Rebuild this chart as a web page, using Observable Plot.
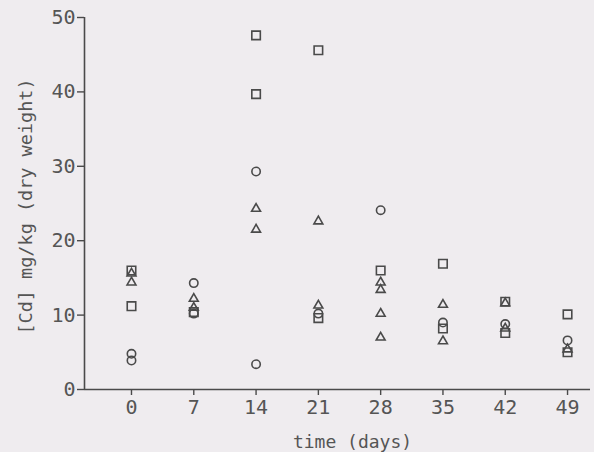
<!DOCTYPE html>
<html>
<head>
<meta charset="utf-8">
<script src="https://cdn.jsdelivr.net/npm/d3@7"></script>
<script src="https://cdn.jsdelivr.net/npm/@observablehq/plot@0.6"></script>
<style>
  html, body { margin: 0; padding: 0; background: #efecef; }
  #chart svg { display: block; background: transparent; }
</style>
</head>
<body>
<div id="chart"></div>
<script>
const dayTicks = [0, 7, 14, 21, 28, 35, 42, 49];
const valueTicks = [0, 10, 20, 30, 40, 50];

const squareDays = [0, 0, 7, 14, 14, 21, 21, 28, 35, 35, 42, 42, 49, 49];
const squareValues = [16.0, 11.2, 10.4, 47.6, 39.7, 45.6, 9.6, 16.0, 16.9, 8.2, 11.8, 7.6, 10.1, 5.0];

const triangleDays = [0, 0, 7, 7, 14, 14, 21, 21, 28, 28, 28, 28, 35, 35, 42, 42, 49];
const triangleValues = [15.6, 14.4, 12.2, 11.0, 24.3, 21.5, 22.6, 11.3, 14.4, 13.4, 10.2, 7.0, 11.4, 6.5, 11.6, 8.2, 5.4];

const circleDays = [0, 0, 7, 7, 14, 14, 21, 28, 35, 42, 49];
const circleValues = [4.8, 3.9, 14.3, 10.2, 29.3, 3.4, 10.2, 24.1, 9.0, 8.8, 6.6];

const xLabel = "time (days)";
const yLabel = "[Cd] mg/kg (dry weight)";

const toRows = (days, vals) => days.map((d, i) => ({day: d, value: vals[i]}));
const squares = toRows(squareDays, squareValues);
const triangles = toRows(triangleDays, triangleValues);
const circles = toRows(circleDays, circleValues);

const ink = "#4a4a4a";
const xDomain = [-5.28, 51.58];

const chart = Plot.plot({
  width: 594,
  height: 452,
  marginLeft: 84,
  marginRight: 4,
  marginTop: 17,
  marginBottom: 63,
  style: {fontFamily: "DejaVu Sans Mono", fontSize: "18px", color: "#555", background: "transparent"},
  x: {domain: xDomain},
  y: {domain: [0, 50]},
  marks: [
    Plot.ruleY([0], {stroke: ink, strokeWidth: 1.6}),
    Plot.ruleX([xDomain[0]], {stroke: ink, strokeWidth: 1.6}),
    Plot.axisY({ticks: valueTicks, tickSize: 7, tickPadding: 2, label: null, stroke: ink, strokeWidth: 1.4, fontSize: 20, fill: "#555"}),
    Plot.axisX({ticks: dayTicks, tickSize: 6, tickPadding: 4, label: null, stroke: ink, strokeWidth: 1.4, fontSize: 20, fill: "#555"}),
    Plot.text([xLabel], {frameAnchor: "bottom", textAnchor: "middle", dx: 15, dy: 58, fontSize: 18, fill: "#555", lineAnchor: "bottom"}),
    Plot.text([yLabel], {frameAnchor: "left", textAnchor: "middle", lineAnchor: "middle", dx: -58, dy: 3, rotate: -90, fontSize: 18.5, fill: "#555"}),
    Plot.dot(squares, {x: "day", y: "value", symbol: "square", r: 4.8, stroke: ink, strokeWidth: 1.6, fill: "none"}),
    Plot.dot(triangles, {x: "day", y: "value", symbol: "triangle", r: 3.3, stroke: ink, strokeWidth: 1.6, fill: "none"}),
    Plot.dot(circles, {x: "day", y: "value", symbol: "circle", r: 4.2, stroke: ink, strokeWidth: 1.6, fill: "none"})
  ]
});
document.getElementById("chart").appendChild(chart);
</script>
</body>
</html>
